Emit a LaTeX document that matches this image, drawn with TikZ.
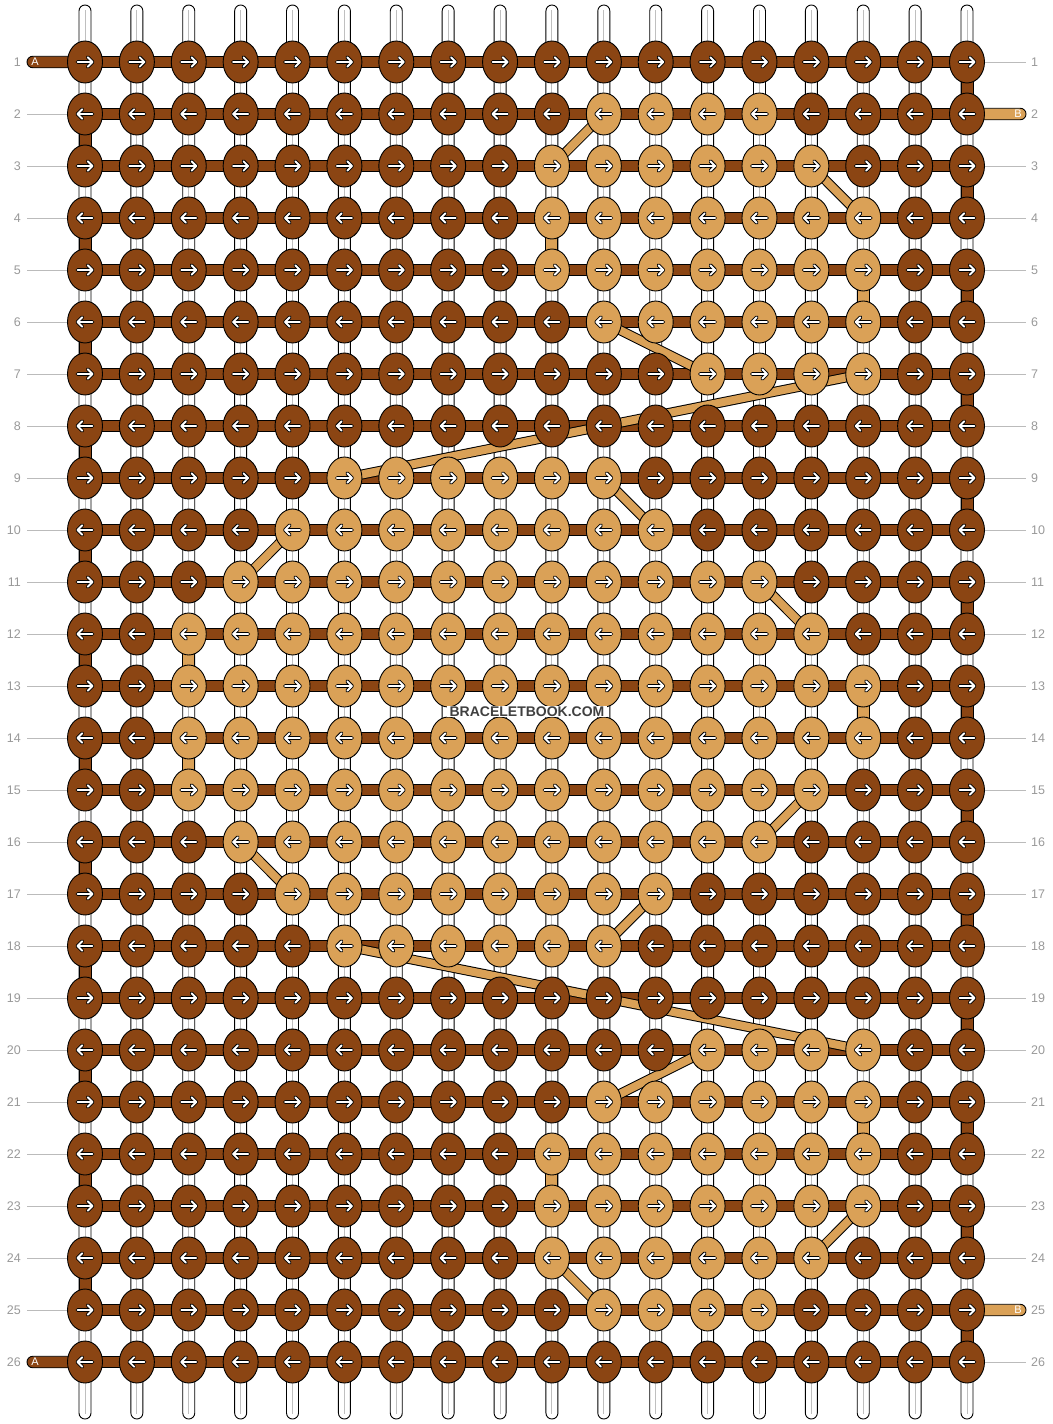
\documentclass[tikz,border=0pt]{standalone}
\usepackage{fontspec}
\setmainfont{Liberation Sans}
\usetikzlibrary{shapes.geometric}
\definecolor{dk}{HTML}{8B4513}
\definecolor{lt}{HTML}{DAA157}
\definecolor{numg}{HTML}{999999}
\definecolor{lineg}{HTML}{BBBBBB}
\tikzset{
  knot/.style={ellipse, draw=black, line width=0.9pt, minimum width=35pt, minimum height=42pt, inner sep=0pt},
  warp/.style={draw=black, fill=white, line width=0.9pt, rounded corners=6pt},
  warpmid/.style={draw=black!25, line width=1pt},
  hbar/.style={draw=black, fill=dk, line width=0.9pt},
  vbarA/.style={draw=black, fill=dk, line width=0.9pt},
  vbarB/.style={draw=black, fill=lt, line width=0.9pt},
  diagout/.style={draw=black, line width=10pt},
  diagin/.style={draw=lt, line width=8pt},
  arrout/.style={draw=black, line width=3.8pt, line cap=round, line join=round},
  arrin/.style={draw=white, line width=1.9pt, line cap=round, line join=round},
  rownum/.style={text=numg, font=\fontsize{12.5}{14}\selectfont, inner sep=0pt},
  rowline/.style={draw=lineg, line width=1pt},
  endlbl/.style={text=white, font=\fontsize{11}{12}\selectfont, inner sep=0pt}
}
\begin{document}
\begin{tikzpicture}[x=1pt,y=-1pt]
\useasboundingbox (0,0) rectangle (1052,1424);
\fill[white] (0,0) rectangle (1052,1424);
% grid coordinates
\foreach \r in {1,...,26}{
  \foreach \c in {1,...,18}{
    \pgfmathsetmacro\xx{85+(\c-1)*51.882}
    \pgfmathsetmacro\yy{62+(\r-1)*52}
    \coordinate (p-\r-\c) at (\xx,\yy);
  }
}
% warp strings
\foreach \c in {1,...,18}{
  \draw[warp] ([xshift=-6pt]p-1-\c |- 0,5) rectangle ([xshift=6pt]p-26-\c |- 0,1419);
  \draw[warpmid] (p-1-\c |- 0,10) -- (p-26-\c |- 0,1414);
}
% row guide lines and numbers
\foreach \r in {1,...,26}{
  \coordinate (gl-\r) at (27,{62+(\r-1)*52});
  \coordinate (gr-\r) at (1026,{62+(\r-1)*52});
  \node[rownum, anchor=east] (nl-\r) at (21,{62+(\r-1)*52}) {\r};
  \node[rownum, anchor=west] (nr-\r) at (1031,{62+(\r-1)*52}) {\r};
}
\foreach \r in {2,...,25}{ \draw[rowline] (gl-\r) -- (p-\r-1); }
\foreach \r in {1,3,4,...,24,26}{ \draw[rowline] (p-\r-18) -- (gr-\r); }
% end strands A and B
\draw[hbar, rounded corners=5.75pt] ([yshift=-5.75pt]gl-1) rectangle ([yshift=5.75pt]p-1-1);
\draw[hbar, rounded corners=5.75pt] ([yshift=-5.75pt]gl-26) rectangle ([yshift=5.75pt]p-26-1);
\draw[vbarB, rounded corners=5.75pt] ([yshift=-5.75pt]p-2-18) rectangle ([yshift=5.75pt]gr-2);
\draw[vbarB, rounded corners=5.75pt] ([yshift=-5.75pt]p-25-18) rectangle ([yshift=5.75pt]gr-25);
\node[endlbl] (lA1) at (35,62) {A};
\node[endlbl] (lA2) at (35,1362) {A};
\node[endlbl] (lB1) at (1018,114) {B};
\node[endlbl] (lB2) at (1018,1310) {B};
% horizontal bars
\foreach \r in {1,...,26}{
  \draw[hbar] ([yshift=-5.75pt]p-\r-1) rectangle ([yshift=5.75pt]p-\r-18);
}
% edge turns of strand A
\foreach \r [evaluate=\r as \rn using int(\r+1)] in {1,3,...,25}{
  \draw[vbarA] ([xshift=-6pt]p-\r-18) rectangle ([xshift=6pt]p-\rn-18);
}
\foreach \r [evaluate=\r as \rn using int(\r+1)] in {2,4,...,24}{
  \draw[vbarA] ([xshift=-6pt]p-\r-1) rectangle ([xshift=6pt]p-\rn-1);
}
% vertical turns of strand B
\foreach \c/\r [evaluate=\r as \rn using int(\r+1)] in {10/4,16/5,3/12,16/13,3/14,16/21,10/22}{
  \draw[vbarB] ([xshift=-6pt]p-\r-\c) rectangle ([xshift=6pt]p-\rn-\c);
}
% diagonal jumps of strand B
\foreach \ra/\ca/\rb/\cb in {2/11/3/10, 3/15/4/16, 6/11/7/13, 7/16/9/6, 9/11/10/12, 10/5/11/4, 11/14/12/15, 15/15/16/14, 16/4/17/5, 17/12/18/11, 18/6/20/16, 20/13/21/11, 23/16/24/15, 24/10/25/11}{
  \draw[diagout] (p-\ra-\ca) -- (p-\rb-\cb);
  \draw[diagin] (p-\ra-\ca) -- (p-\rb-\cb);
}
% knots
\foreach \r/\lo/\hi in {1/0/0, 2/11/14, 3/10/15, 4/10/16, 5/10/16, 6/11/16, 7/13/16, 8/0/0, 9/6/11, 10/5/12, 11/4/14, 12/3/15, 13/3/16, 14/3/16, 15/3/15, 16/4/14, 17/5/12, 18/6/11, 19/0/0, 20/13/16, 21/11/16, 22/10/16, 23/10/16, 24/10/15, 25/11/14, 26/0/0}{
  \foreach \c in {1,...,18}{
    \def\kc{lt}
    \ifnum\c<\lo \def\kc{dk}\fi
    \ifnum\c>\hi \def\kc{dk}\fi
    \ifodd\r \def\dd{1}\else \def\dd{-1}\fi
    \node[knot, fill=\kc] (k-\r-\c) at (p-\r-\c) {};
    \begin{scope}[shift={(k-\r-\c.center)}]
      \draw[arrout] (-7.5*\dd,0) -- (7.5*\dd,0) (2.8*\dd,-4.7) -- (7.5*\dd,0) -- (2.8*\dd,4.7);
      \draw[arrin] (-7.5*\dd,0) -- (7.5*\dd,0) (2.8*\dd,-4.7) -- (7.5*\dd,0) -- (2.8*\dd,4.7);
    \end{scope}
  }
}
% watermark
\node[fill=white, inner xsep=3pt, inner ysep=1pt, text=black!75, font=\bfseries\fontsize{14}{14}\selectfont] (wm) at (527,711.5) {BRACELETBOOK.COM};
\end{tikzpicture}
\end{document}
